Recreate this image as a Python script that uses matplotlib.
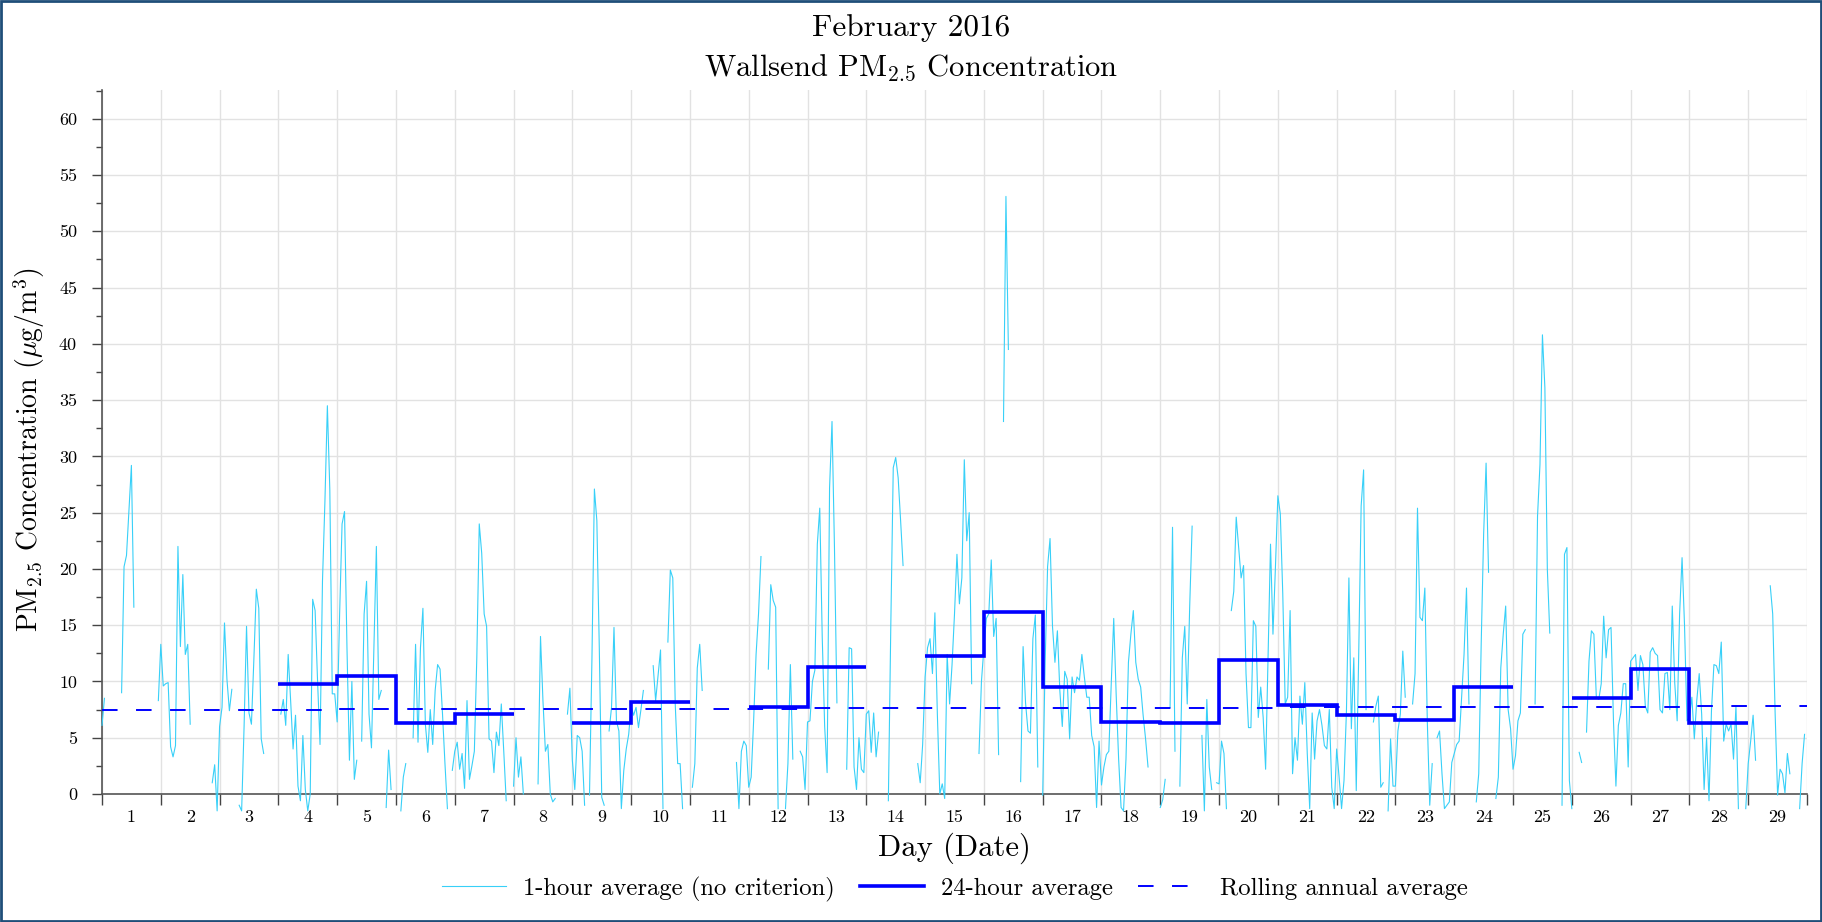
import numpy as np
import matplotlib
matplotlib.use("Agg")
import matplotlib.pyplot as plt
from matplotlib.lines import Line2D
from matplotlib.patches import Rectangle
from matplotlib.ticker import MultipleLocator, FixedLocator, NullFormatter, FixedFormatter

plt.rcParams['font.family'] = 'cmr10'
plt.rcParams['mathtext.fontset'] = 'cm'
plt.rcParams['axes.unicode_minus'] = False
plt.rcParams['axes.formatter.use_mathtext'] = True

n = np.nan

# hourly 1-hour averages, 24 values per day (Feb 1 .. Feb 29)
day01 = [6.1, 8.5, n, n, n, n, n, n, 9.0, 20.2, 21.2, 25.2, 29.2, 16.6, n, n, n, n, n, n, n, n, n, 8.3]
day02 = [13.3, 9.6, 9.8, 9.9, 4.2, 3.3, 4.3, 22.0, 13.1, 19.5, 12.4, 13.3, 6.2, n, n, n, n, n, n, n, n, 1.0, 2.6, -1.5]
day03 = [6.0, 7.7, 15.2, 10.2, 7.4, 9.3, n, n, -1.0, -1.5, 6.0, 14.9, 7.2, 6.2, 12.0, 18.2, 16.5, 4.9, 3.6, n, n, n, n, n]
day04 = [n, 7.1, 8.4, 6.1, 12.4, 8.3, 4.0, 7.0, 0.7, -0.6, 5.2, 0.4, -1.5, 0.0, 17.3, 16.3, 10.0, 4.4, 18.9, 26.0, 34.5, 27.0, 8.9, 8.9]
day05 = [6.4, 16.0, 24.0, 25.1, 13.0, 3.0, 10.0, 1.3, 3.0, n, 4.7, 16.0, 18.9, 7.1, 4.1, 13.0, 22.0, 8.4, 9.2, n, -1.2, 3.9, 0.4, n]
day06 = [n, n, -1.5, 1.5, 2.7, n, n, 5.0, 13.3, 4.6, 13.0, 16.5, 6.2, 3.7, 7.5, 4.4, 9.2, 11.5, 11.1, 7.1, 2.7, -1.3, n, 2.1]
day07 = [3.8, 4.6, 2.2, 3.6, 0.5, 8.3, 1.3, 2.5, 3.8, 12.1, 24.0, 21.4, 16.0, 14.9, 4.9, 4.7, 1.9, 5.5, 4.3, 8.0, 3.8, -0.6, n, n]
day08 = [0.7, 5.0, 1.5, 3.3, 0.0, n, n, n, n, n, 0.9, 14.0, 8.3, 3.8, 4.4, 0.0, -0.7, -0.4, n, n, n, n, 7.1, 9.4]
day09 = [3.0, 0.4, 5.2, 5.0, 3.8, -1.0, n, -0.1, 12.0, 27.1, 24.3, 13.0, -0.3, -1.0, n, 5.6, 7.7, 14.8, 6.5, 5.6, -1.3, 2.1, 4.0, 5.3]
day10 = [7.8, 7.0, 7.7, 5.9, 7.5, 9.2, n, n, n, 11.4, 8.3, 10.5, 12.8, -1.3, n, 13.5, 19.9, 19.2, 8.0, 2.7, 2.7, -1.3, n, n]
day11 = [n, 0.6, 2.7, 11.2, 13.3, 9.2, n, n, n, n, n, n, n, n, n, n, n, n, n, 2.8, -1.3, 3.8, 4.7, 4.3]
day12 = [0.6, 1.5, 6.5, 12.4, 16.0, 21.1, n, n, 11.1, 18.6, 17.2, 16.6, -1.3, n, n, -1.3, 2.7, 11.5, 3.1, n, n, 3.8, 3.3, 0.4]
day13 = [6.4, 6.5, 10.0, 11.0, 22.2, 25.4, 14.0, 6.0, 1.9, 27.2, 33.1, 21.9, 8.1, n, n, n, 2.2, 13.0, 12.9, 2.4, 0.4, 5.0, 2.2, 1.9]
day14 = [7.1, 7.4, 3.7, 7.2, 3.3, 5.5, n, n, n, -0.6, 15.0, 29.0, 29.9, 28.1, 24.3, 20.3, n, n, n, n, n, 2.7, 1.0, 4.4]
day15 = [10.4, 13.0, 13.8, 10.7, 16.1, 7.1, 0.0, 0.9, -0.4, 12.4, 8.0, 11.5, 16.0, 21.3, 16.9, 19.2, 29.7, 22.5, 25.0, 9.8, n, n, 3.6, 10.0]
day16 = [13.0, 15.6, 16.0, 20.8, 14.0, 15.6, 3.5, n, 33.1, 53.1, 39.5, n, n, n, n, 1.1, 13.1, 8.1, 5.6, 5.4, 13.8, 15.9, 2.4, n]
day17 = [-0.1, 11.7, 20.2, 22.7, 14.9, 11.7, 14.5, 9.2, 6.0, 10.9, 10.2, 4.9, 10.4, 9.0, 10.4, 10.1, 12.4, 10.4, 8.6, 8.6, 5.2, 4.2, -1.2, 4.7]
day18 = [0.8, 2.4, 3.5, 3.8, 9.9, 15.6, 8.8, 3.1, -1.2, -1.5, 3.1, 11.7, 14.2, 16.3, 11.7, 10.2, 9.5, 7.0, 4.9, 2.4, n, n, n, n]
day19 = [-1.2, -0.5, 1.3, n, 7.7, 23.7, 3.8, n, 0.7, 12.1, 14.9, 8.0, 16.6, 23.8, n, -1.3, n, 5.2, -1.5, 8.4, 2.4, 0.4, n, 1.0]
day20 = [0.9, 4.7, 3.6, -1.3, n, 16.3, 18.0, 24.6, 21.9, 19.2, 20.3, 10.7, 5.9, 5.9, 15.4, 14.9, 6.8, 9.5, 6.8, 2.2, 12.4, 22.2, 14.2, 20.1]
day21 = [26.5, 24.9, 17.8, 8.0, 8.6, 16.3, 1.8, 5.0, 3.0, 8.7, 6.2, 9.9, 3.6, -1.3, 7.2, 3.1, 6.5, 7.5, 6.1, 4.3, 4.0, 7.5, 0.6, -1.3]
day22 = [4.0, 1.5, -1.3, 1.2, 7.4, 19.2, 5.8, 12.1, 0.3, 12.4, 25.6, 28.8, 7.5, n, n, 6.4, 7.8, 8.7, 0.6, 1.0, n, -1.5, 4.9, 0.7]
day23 = [0.7, 5.6, 7.1, 12.7, 8.6, n, n, 8.0, 10.7, 25.4, 15.7, 15.4, 18.3, 6.5, -1.0, 2.7, n, 5.0, 5.6, 1.8, -1.3, -1.0, -0.7, 2.8]
day24 = [3.6, 4.4, 4.7, 8.6, 12.4, 18.3, 8.0, n, n, -0.7, 1.8, 13.3, 23.1, 29.4, 19.7, n, n, -0.4, 1.5, 11.2, 14.2, 16.7, 7.5, 5.8]
day25 = [2.2, 3.4, 6.5, 7.2, 14.2, 14.6, n, n, n, 8.0, 24.7, 29.3, 40.8, 36.1, 20.0, 14.3, n, n, n, n, -1.0, 21.3, 21.9, 1.2]
day26 = [-1.3, n, n, 3.7, 2.8, n, 5.5, 11.8, 14.5, 14.2, 8.6, 8.4, 9.8, 15.8, 12.1, 14.6, 14.8, 6.5, 0.7, 6.1, 7.2, 9.8, 9.8, 2.4]
day27 = [11.8, 12.1, 12.4, 9.2, 12.3, 11.5, 7.8, 7.2, 12.6, 13.0, 12.5, 12.3, 7.5, 7.2, 10.7, 10.8, 7.5, 16.7, 9.9, 6.5, 16.0, 21.0, 15.0, 6.5]
day28 = [6.8, 8.6, 4.9, 8.3, 10.7, 7.1, 0.4, 5.0, -0.6, 7.4, 11.5, 11.4, 10.7, 13.5, 4.7, 6.2, 5.6, 6.2, 3.1, 7.8, -1.3, n, n, -1.3]
day29 = [2.7, 4.7, 7.0, 3.0, n, n, n, n, n, 18.5, 16.0, 7.1, -0.1, 2.2, 1.8, 0.1, 3.6, 1.8, n, n, n, -1.3, 2.7, 5.3]

# 24-hour averages per day
avg_24h = [n, n, n, 9.8, 10.5, 6.3, 7.1, n, 6.3, 8.2, n, 7.7, 11.3, n, 12.3,
           16.2, 9.5, 6.4, 6.3, 11.9, 7.9, 7.0, 6.6, 9.5, n, 8.5, 11.1, 6.3, n]

# rolling annual average per day
rolling_annual = [7.48, 7.49, 7.50, 7.50, 7.51, 7.52, 7.53, 7.54, 7.55, 7.56, 7.57, 7.58,
                  7.60, 7.61, 7.62, 7.63, 7.64, 7.65, 7.66, 7.68, 7.70, 7.71, 7.72, 7.74,
                  7.75, 7.76, 7.77, 7.78, 7.80]

day_labels = [str(d) for d in range(1, 30)]
y_tick_values = list(range(0, 61, 5))

days = [day01, day02, day03, day04, day05, day06, day07, day08, day09, day10,
        day11, day12, day13, day14, day15, day16, day17, day18, day19, day20,
        day21, day22, day23, day24, day25, day26, day27, day28, day29]
hourly = np.array([v for d in days for v in d], dtype=float)
x_hour = np.arange(len(hourly)) / 24.0

W, H = 1822, 922
fig = plt.figure(figsize=(W / 100, H / 100), dpi=100)
ax_left, ax_right, ax_bottom, ax_top = 102, 1807, 794, 89.5
ax = fig.add_axes([ax_left / W, 1 - ax_bottom / H, (ax_right - ax_left) / W, (ax_bottom - ax_top) / H])

cyan = '#38d0f8'
blue = '#0000ff'
dash = (0, (8, 9.5))

ax.plot(x_hour, hourly, color=cyan, lw=0.8, clip_on=False, zorder=3)

x_days = np.arange(30)
ax.plot(x_days, avg_24h + [n], drawstyle='steps-post', color=blue, lw=2.6, zorder=4,
        solid_joinstyle='miter', solid_capstyle='butt')
ax.plot(x_days, rolling_annual + [rolling_annual[-1]], drawstyle='steps-post', color=blue,
        lw=1.4, linestyle=dash, zorder=4)

ax.set_xlim(0, 29)
ax.set_ylim(0, 62.6)

ax.yaxis.set_major_locator(FixedLocator(y_tick_values))
ax.yaxis.set_major_formatter(FixedFormatter([str(v) for v in y_tick_values]))
ax.yaxis.set_minor_locator(MultipleLocator(2.5))

ax.xaxis.set_major_locator(FixedLocator(np.arange(0, 30)))
ax.xaxis.set_major_formatter(NullFormatter())
ax.xaxis.set_minor_locator(FixedLocator(np.arange(29) + 0.5))
ax.xaxis.set_minor_formatter(FixedFormatter(day_labels))

ax.tick_params(axis='y', which='major', direction='out', length=7, width=1, color='#444444',
               labelsize=13, pad=11)
ax.tick_params(axis='y', which='minor', direction='out', length=4, width=1, color='#444444')
ax.tick_params(axis='x', which='major', direction='out', length=8, width=1, color='#444444')
ax.tick_params(axis='x', which='minor', length=0, labelsize=13, pad=11)

ax.grid(True, which='major', color='#e2e2e2', lw=1, zorder=0)
ax.set_axisbelow(True)
for s in ['top', 'right']:
    ax.spines[s].set_visible(False)
for s in ['left', 'bottom']:
    ax.spines[s].set_color('#555555')
    ax.spines[s].set_linewidth(1.2)

fig.text(0.5, 1 - 28.5 / H, 'February 2016', ha='center', va='center', fontsize=22.5)
fig.text(0.5, 1 - 67.5 / H, r'Wallsend PM$_{2.5}$ Concentration', ha='center', va='center', fontsize=22)
fig.text(29 / W, 1 - 450 / H, r'PM$_{2.5}$ Concentration ($\mu$g/m$^3$)', rotation=90,
         ha='center', va='center', fontsize=20)
fig.text((ax_left + ax_right) / 2 / W, 1 - 848 / H, 'Day (Date)', ha='center', va='center', fontsize=22)

handles = [Line2D([], [], color=cyan, lw=0.8),
           Line2D([], [], color=blue, lw=2.6),
           Line2D([], [], color=blue, lw=1.4, linestyle=dash)]
labels = ['1-hour average (no criterion)', '24-hour average', 'Rolling annual average']
fig.legend(handles, labels, loc='center', bbox_to_anchor=((ax_left + ax_right) / 2 / W, 1 - 889 / H),
           ncol=3, frameon=False, fontsize=17.8, handlelength=2.6, handletextpad=0.7,
           columnspacing=1.0)

fig.patches.append(Rectangle((0.0008, 0.0012), 0.9984, 0.9976, transform=fig.transFigure,
                             fill=False, edgecolor='#1f4e79', lw=2, zorder=10))

fig.savefig('out.png', dpi=100)
